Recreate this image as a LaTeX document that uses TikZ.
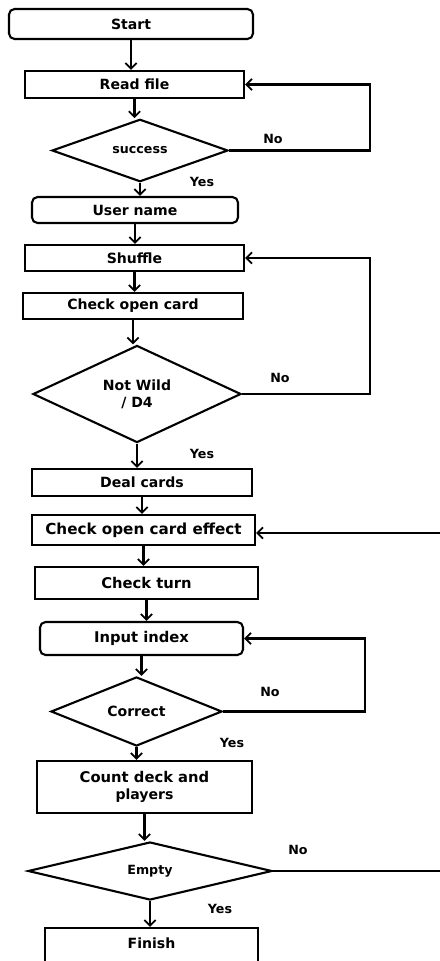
\documentclass[tikz,border=0pt]{standalone}
\usepackage{fontspec}
\setmainfont{DejaVu Sans}
\usepackage{tikz}
\usetikzlibrary{arrows.meta,shapes.geometric,calc}

\begin{document}
\begin{tikzpicture}[
    x=0.025cm, y=-0.025cm,
    every node/.style={font=\fontsize{10pt}{12pt}\selectfont\bfseries, inner sep=1pt},
    procbox/.style={draw=black, rectangle, line width=1.5pt, align=center},
    termbox/.style={procbox, rounded corners=4pt},
    decision/.style={draw=black, diamond, line width=1.5pt, align=center, inner sep=0pt},
    lbl/.style={font=\fontsize{9pt}{11pt}\selectfont\bfseries},
    arrow/.style={-{Straight Barb[length=4pt,width=8pt,line width=1.3pt]}, line width=1.5pt, draw=black},
    link/.style={line width=1.5pt, draw=black}
]
    \clip (0,0) rectangle (440,961);

    % Steps
    \node[termbox, minimum width=6.1cm, minimum height=0.75cm] (start) at (131,24) {Start};
    \node[procbox, minimum width=5.475cm, minimum height=0.675cm] (read) at (134.5,84.5) {Read file};
    \node[decision, minimum width=4.4cm, minimum height=1.175cm] (success) at (140,150.5) {\fontsize{9pt}{11pt}\selectfont success};
    \node[termbox, minimum width=5.15cm, minimum height=0.65cm] (user) at (135,210) {User name};
    \node[procbox, minimum width=5.475cm, minimum height=0.65cm] (shuffle) at (134.5,258) {Shuffle};
    \node[procbox, minimum width=5.5cm, minimum height=0.65cm] (opencard) at (133,306) {Check open card};
    \node[decision, minimum width=5.2cm, minimum height=2.3cm] (notwild) at (137,394) {Not Wild\\/ D4};
    \node[procbox, minimum width=5.5cm, minimum height=0.675cm] (deal) at (142,482.5) {Deal cards};
    \node[procbox, minimum width=5.575cm, minimum height=0.75cm] (effect) at (143.5,530) {\fontsize{10.8pt}{12pt}\selectfont Check open card effect};
    \node[procbox, minimum width=5.575cm, minimum height=0.8cm] (turn) at (146.5,583) {\fontsize{10.5pt}{12pt}\selectfont Check turn};
    \node[termbox, minimum width=5.075cm, minimum height=0.825cm] (input) at (141.5,638.5) {\fontsize{10.5pt}{12pt}\selectfont Input index};
    \node[decision, minimum width=4.275cm, minimum height=1.425cm] (correct) at (136.5,711.5) {Correct};
    \node[procbox, minimum width=5.375cm, minimum height=1.3cm] (count) at (144.5,787) {\fontsize{10.5pt}{16pt}\selectfont Count deck and\\players};
    \node[decision, minimum width=6.1cm, minimum height=1.45cm] (empty) at (150,871) {\fontsize{9pt}{11pt}\selectfont Empty};
    \node[procbox, minimum width=5.325cm, minimum height=1.0cm, text depth=0.25cm] (finish) at (151.5,948) {Finish};

    % Branch labels
    \node[lbl] (no1) at (273,139) {No};
    \node[lbl] (yes1) at (202,182) {Yes};
    \node[lbl] (no2) at (280,378) {No};
    \node[lbl] (yes2) at (202,454) {Yes};
    \node[lbl] (no3) at (270,692) {No};
    \node[lbl] (yes3) at (232,743) {Yes};
    \node[lbl] (no4) at (298,850) {No};
    \node[lbl] (yes4) at (220,909) {Yes};

    % Free ends at the right edge
    \coordinate (effin) at (440,533);
    \coordinate (emptyout) at (440,871);

    % Main flow
    \draw[arrow] (start) -- (start |- read.north);
    \draw[arrow] (read) -- (read |- success.north);
    \draw[arrow] (success) -- (success |- user.north);
    \draw[arrow] (user) -- (user |- shuffle.north);
    \draw[arrow] (shuffle) -- (shuffle |- opencard.north);
    \draw[arrow] (opencard) -- (opencard |- notwild.north);
    \draw[arrow] (notwild) -- (notwild |- deal.north);
    \draw[arrow] (deal) -- (deal |- effect.north);
    \draw[arrow] (effect) -- (effect |- turn.north);
    \draw[arrow] (turn) -- (turn |- input.north);
    \draw[arrow] (input) -- (input |- correct.north);
    \draw[arrow] (correct) -- (correct |- count.north);
    \draw[arrow] (count) -- (count |- empty.north);
    \draw[arrow] (empty) -- (empty |- finish.north);

    % Loops back
    \draw[arrow] (success.east) -- ++(141,0) |- (read.east);
    \draw[arrow] (notwild.east) -- ++(128,0) |- (shuffle.east);
    \draw[arrow] (correct.east) -- ++(142,0) |- (input.east);
    \draw[arrow] (effin) -- (effin -| effect.east);
    \draw[link] (empty.east) -- (emptyout);

\end{tikzpicture}
\end{document}
